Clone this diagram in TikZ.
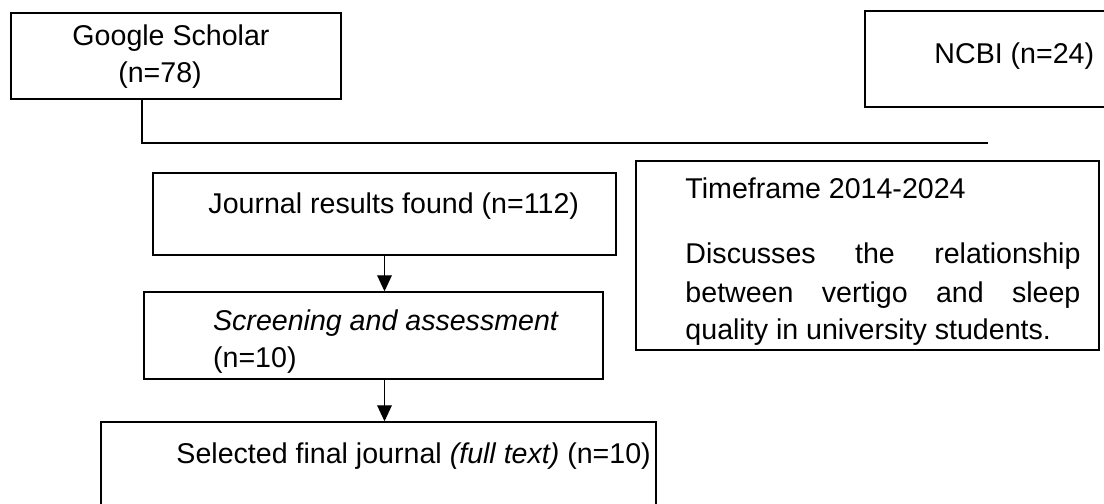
\documentclass[tikz,border=0pt]{standalone}
\usepackage{fontspec}
\setmainfont{Liberation Sans}
\usetikzlibrary{arrows.meta}
\begin{document}
\begin{tikzpicture}[
    box/.style={draw, line width=0.6pt, inner sep=0pt},
    txt/.style={font=\fontsize{12.2}{16}\selectfont, inner sep=0pt},
    link/.style={line width=0.5pt},
    flow/.style={line width=0.5pt, -{Triangle[length=0.24cm,width=0.22cm]}}]
    \useasboundingbox (0,0) rectangle (16.560000,7.560000);
    \clip (0,0) rectangle (16.560000,7.560000);

    % Source boxes
    \node [box, minimum width=4.950000cm, minimum height=1.290000cm] (gs) at (2.640000,6.720000) {};%
    \node [txt, anchor=base] (gsname) at (2.565000,6.870000) {Google Scholar};%
    \node [txt, anchor=base] (gsn) at (2.400000,6.315000) {(n=78)};%

    \node [box, minimum width=3.825000cm, minimum height=1.440000cm] (ncbi) at (14.887500,6.675000) {};%
    \node [txt, anchor=base west] (ncbiname) at (14.010000,6.600000) {NCBI (n=24)};%

    % Joining line
    \coordinate (split) at (2.130000,5.415000);
    \coordinate (join) at (14.820000,5.415000);
    \draw [link] (split |- gs.south) -- (split) -- (join);%

    % Journal results
    \node [box, minimum width=6.945000cm, minimum height=1.230000cm] (jr) at (5.767500,4.350000) {};%
    \node [txt, anchor=base west] (jrtext) at (3.120000,4.350000) {Journal results found (n=112)};%

    % Criteria box
    \node [box, minimum width=6.945000cm, minimum height=2.835000cm] (tf) at (13.012500,3.727500) {};%
    \node [txt, anchor=base west] (tfyear) at (10.275000,4.575000) {Timeframe 2014-2024};%
    \node [txt, anchor=base west] (tfline1) at (10.275000,3.600000) {\makebox[5.925cm][s]{Discusses the relationship}};%
    \node [txt, anchor=base west] (tfline2) at (10.275000,3.015000) {\makebox[5.925cm][s]{between vertigo and sleep}};%
    \node [txt, anchor=base west] (tfline3) at (10.275000,2.460000) {quality in university students.};%

    % Screening
    \node [box, minimum width=6.885000cm, minimum height=1.305000cm] (sc) at (5.602500,2.527500) {};%
    \node [txt, anchor=base west] (sctext) at (3.190000,2.595000) {\textit{Screening and assessment}};%
    \node [txt, anchor=base west] (scn) at (3.190000,2.040000) {(n=10)};%

    % Final selection
    \node [box, minimum width=8.325000cm, minimum height=1.620000cm] (fin) at (5.677500,0.420000) {};%
    \node [txt, anchor=base west] (fintext) at (2.640000,0.600000) {Selected final journal \textit{(full text)} (n=10)};%

    % Arrows
    \draw [flow] (jr.south) -- (jr.south |- sc.north);%
    \draw [flow] (jr.south |- sc.south) -- (jr.south |- fin.north);%
\end{tikzpicture}
\end{document}
